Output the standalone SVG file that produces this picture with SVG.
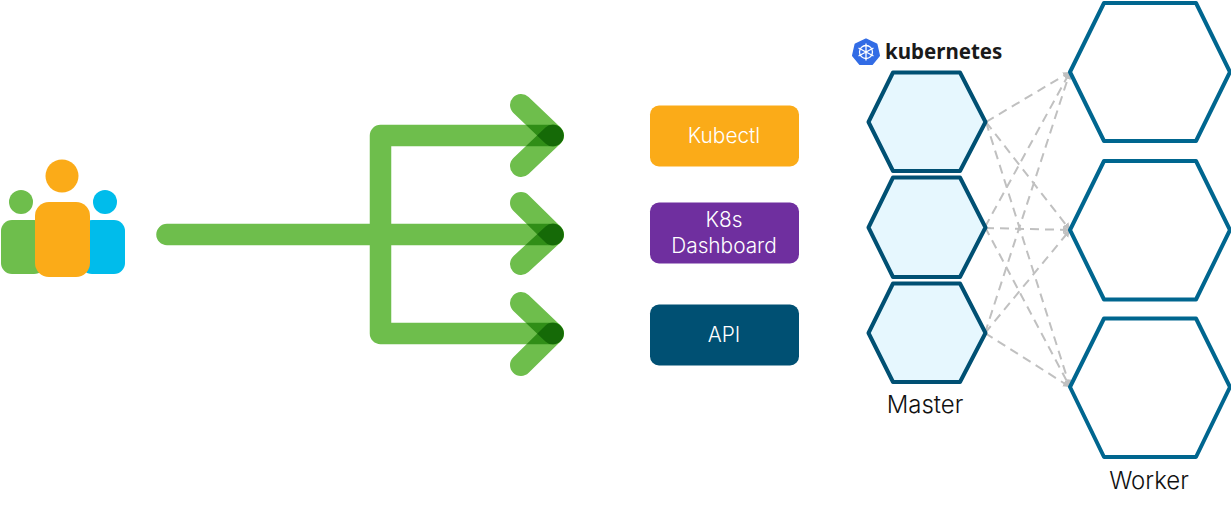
<svg xmlns="http://www.w3.org/2000/svg" width="1231" height="510" viewBox="0 0 1231 510">
<style>
.shaft{fill:none;stroke:#6ebe4c;stroke-width:21.5;stroke-linecap:round;stroke-linejoin:round}
.barb{fill:none;stroke:#6ebe4c;stroke-width:22;stroke-linecap:round;mix-blend-mode:multiply}
.m{fill:#e6f7fe;stroke:#005073;stroke-width:4;stroke-linejoin:round}
.w{fill:#fff;stroke:#00668f;stroke-width:4;stroke-linejoin:round}
.d{fill:none;stroke:#c0c0c0;stroke-width:2;stroke-dasharray:9 6;marker-end:url(#ah)}
.t{font-family:"Inter","Liberation Sans",sans-serif;font-weight:300;text-anchor:middle}
.l{fill:#fff;font-size:20.800px}
.h{fill:#111;font-size:24px}
</style>
<defs>
<marker id="ah" markerUnits="userSpaceOnUse" markerWidth="8" markerHeight="8" refX="7" refY="3.5" orient="auto"><path d="M0 0L7 3.5L0 7z" fill="#c0c0c0"/></marker>
</defs>
<g id="users">
<circle cx="21" cy="202" r="12" fill="#6ebe4c"/>
<rect x="1" y="220" width="44" height="54" rx="11" fill="#6ebe4c"/>
<circle cx="105" cy="202" r="12" fill="#00bceb"/>
<rect x="81" y="220" width="44" height="54" rx="11" fill="#00bceb"/>
<circle cx="62" cy="176" r="16.5" fill="#fbab18"/>
<rect x="35" y="202" width="55" height="75" rx="14" fill="#fbab18"/>
</g>
<g id="connectors">
<g id="arrows" style="isolation:isolate">
<path class="shaft" d="M167 234.500H380M553 135.500H380.500V333.500H553M380 234.500H553"/>
<path class="barb" d="M521 105L553 135.500"/><path class="barb" d="M521 166L553 135.500"/>
<path class="barb" d="M521 203L553 234.500"/><path class="barb" d="M521 264L553 234.500"/>
<path class="barb" d="M521 303L553 333.500"/><path class="barb" d="M521 365L553 333.500"/>
</g>
<g id="cluster-links">
<path class="d" d="M986 122L1070 72"/>
<path class="d" d="M986 122L1070 230"/>
<path class="d" d="M986 122L1070 387"/>
<path class="d" d="M985 227L1070 72"/>
<path class="d" d="M985 228L1070 230"/>
<path class="d" d="M985 227L1070 387"/>
<path class="d" d="M985 333L1070 72"/>
<path class="d" d="M985 333L1070 230"/>
<path class="d" d="M985 333L1070 387"/>
</g>
</g>
<g id="kubectl"><rect x="650" y="105.500" width="149" height="61" rx="9" fill="#fbab18"/><text class="t l" x="724" y="143">Kubectl</text></g>
<g id="dashboard"><rect x="650" y="202.500" width="149" height="61" rx="9" fill="#6f2f9f"/><text class="t l" x="724" y="227">K8s</text><text class="t l" x="724" y="253">Dashboard</text></g>
<g id="api"><rect x="650" y="304.500" width="149" height="61" rx="9" fill="#005073"/><text class="t l" x="724" y="342">API</text></g>
<g id="k8s-logo">
<path d="M866 39.500L876.500 44.500L879 55.500L872 64H860L853 55.500L855.500 44.500Z" fill="#326ce5" stroke="#326ce5" stroke-width="2" stroke-linejoin="round"/>
<g fill="none" stroke="#fff" stroke-width="1.300"><circle cx="866" cy="52" r="6.500"/><path d="M866 43.500V60.500M858.500 48L873.500 56M873.500 48L858.500 56"/></g>
<text x="885" y="59" font-family="'Noto Sans','Open Sans',sans-serif" font-weight="700" font-size="20.500" fill="#1a1a1a">kubernetes</text>
</g>
<g id="master-1"><path class="m" d="M868.500 122L893 72.500H960L985.500 122L960 171H893Z"/></g>
<g id="master-2"><path class="m" d="M868.500 227.500L893 177.500H960L985.500 227.500L960 277H893Z"/></g>
<g id="master-3"><path class="m" d="M868.500 333L893 283.500H960L985.500 333L960 382H893Z"/></g>
<text class="t h" x="925" y="413">Master</text>
<g id="worker-1"><path class="w" d="M1070 72L1104 3H1196L1230 72L1196 141H1104Z"/></g>
<g id="worker-2"><path class="w" d="M1070 230L1104 161H1196L1230 230L1196 299.500H1104Z"/></g>
<g id="worker-3"><path class="w" d="M1070 387L1104 318.500H1196L1230 387L1196 457H1104Z"/></g>
<text class="t h" x="1149" y="489">Worker</text>
</svg>
